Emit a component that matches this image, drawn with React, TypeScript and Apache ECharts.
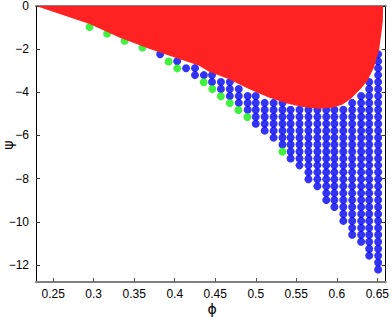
import React, { useEffect, useRef } from 'react';
import * as echarts from 'echarts';

// Axis ticks
const xTicks = [0.25, 0.3, 0.35, 0.4, 0.45, 0.5, 0.55, 0.6, 0.65];
const yTicks = [-12, -10, -8, -6, -4, -2, 0];
const X_MIN = 0.2288;
const X_MAX = 0.6604;
const Y_MIN = -12.79;
const Y_MAX = 0;

// Blue grid: one column per phi value, rows from bottom psi to top psi (grid step)
const PSI_STEP = 0.3217;
const colPhi = [0.651, 0.640, 0.630, 0.619, 0.608, 0.597, 0.587, 0.576, 0.565, 0.554, 0.543, 0.533, 0.522,
  0.511, 0.500, 0.490, 0.479, 0.468, 0.457, 0.446, 0.436, 0.425, 0.414, 0.403, 0.382];
const colBottomPsi = [-12.21, -11.567, -10.923, -10.602, -9.958, -9.315, -8.993, -8.350, -8.028, -7.384, -7.063,
  -6.419, -6.098, -5.776, -5.454, -4.811, -4.489, -4.168, -3.846, -3.524, -3.202, -3.202, -2.881, -2.559, -2.237];
const colTopPsi = [-2.237, -3.524, -4.168, -4.489, -4.811, -4.811, -4.811, -4.811, -4.811, -4.811, -4.811,
  -4.489, -4.489, -4.489, -4.168, -4.168, -3.846, -3.524, -3.524, -3.202, -3.202, -2.881, -2.881, -2.559, -2.237];

// Green points
const greenPhi = [0.2949, 0.3166, 0.3382, 0.3602, 0.3925, 0.4031, 0.4357, 0.4464, 0.4569, 0.4680, 0.4786, 0.4896, 0.5329];
const greenPsi = [-0.97, -1.28, -1.61, -1.92, -2.57, -2.89, -3.53, -3.85, -4.18, -4.50, -4.82, -5.14, -6.75];

// Red region: lower boundary (filled up to psi = 0)
const redPhi = [0.2288, 0.2949, 0.3317, 0.3684, 0.4027, 0.4296, 0.4419, 0.4664, 0.4909, 0.5153, 0.5398, 0.5582,
  0.5766, 0.5949, 0.6072, 0.6173, 0.6296, 0.6378, 0.6460, 0.6500, 0.6521, 0.6549, 0.6568, 0.6571];
const redPsi = [0, -0.83, -1.46, -1.98, -2.42, -2.76, -3.03, -3.38, -3.84, -4.23, -4.53, -4.68,
  -4.76, -4.72, -4.56, -4.30, -3.84, -3.46, -2.84, -2.30, -2.07, -1.29, -0.69, 0];

const FONT = 'Liberation Sans, Arial, Helvetica, sans-serif';

export default function App() {
  const ref = useRef<HTMLDivElement>(null);
  useEffect(() => {
    if (!ref.current) return;
    const chart = echarts.init(ref.current, undefined, { renderer: 'svg' });

    const bluePts: number[][] = [];
    colPhi.forEach((phi, i) => {
      const n = Math.round((colTopPsi[i] - colBottomPsi[i]) / PSI_STEP);
      for (let j = 0; j <= n; j++) bluePts.push([phi, colBottomPsi[i] + j * PSI_STEP]);
    });
    const greenPts = greenPhi.map((p, i) => [p, greenPsi[i]]);
    const redPts = redPhi.map((p, i) => [p, redPsi[i]]);

    const fmtY = (v: number) => (v === 0 ? '0' : (v < 0 ? '\u2212' : '') + Math.abs(v));

    const baseX = {
      type: 'value', min: X_MIN, max: X_MAX,
      splitLine: { show: false },
      axisLine: { show: true, onZero: false, lineStyle: { color: '#808080', width: 2 } },
      axisTick: { show: true, inside: true, length: 4, customValues: xTicks, lineStyle: { color: '#555' } },
    };
    const baseY = {
      type: 'value', min: Y_MIN, max: Y_MAX,
      splitLine: { show: false },
      axisLine: { show: true, onZero: false, lineStyle: { color: '#000', width: 1 } },
      axisTick: { show: true, inside: true, length: 4, customValues: yTicks, lineStyle: { color: '#333' } },
    };

    chart.setOption({
      animation: false,
      grid: { left: 36, top: 5, width: 352, height: 277, containLabel: false },
      xAxis: [
        {
          ...baseX, position: 'bottom',
          axisLabel: { show: true, customValues: xTicks, margin: 6, color: '#000', fontSize: 12, fontFamily: FONT,
            formatter: (v: number) => String(v) },
        },
        { ...baseX, position: 'top', axisLabel: { show: false } },
      ],
      yAxis: [
        {
          ...baseY, position: 'left',
          axisLabel: { show: true, customValues: yTicks, margin: 7, color: '#000', fontSize: 12, fontFamily: FONT,
            formatter: fmtY },
        },
        { ...baseY, position: 'right', axisLabel: { show: false } },
      ],
      series: [
        {
          type: 'scatter', data: bluePts, symbol: 'circle', symbolSize: 8,
          itemStyle: { color: '#0000f0' }, z: 2, silent: true,
        },
        {
          type: 'scatter', data: greenPts, symbol: 'circle', symbolSize: 8,
          itemStyle: { color: '#10ee10' }, z: 3, silent: true,
        },
        {
          type: 'line', data: redPts, showSymbol: false, symbol: 'none',
          lineStyle: { width: 0 }, areaStyle: { color: '#ff2222', opacity: 1 }, z: 4, silent: true,
        },
      ],
      graphic: [
        {
          type: 'text', x: 212, y: 309,
          style: { text: '\u03D5', fontSize: 14, fontFamily: 'DejaVu Sans, ' + FONT, fill: '#000',
            textAlign: 'center', textVerticalAlign: 'middle', align: 'center', verticalAlign: 'middle' },
        },
        {
          type: 'text', x: 8, y: 145, rotation: Math.PI / 2,
          style: { text: '\u03C8', fontSize: 14, fontFamily: 'DejaVu Sans, ' + FONT, fill: '#000',
            textAlign: 'center', textVerticalAlign: 'middle', align: 'center', verticalAlign: 'middle' },
        },
      ],
    });
    return () => chart.dispose();
  }, []);
  return <div ref={ref} style={{ position: 'absolute', left: 0, top: 0, width: 392, height: 317 }} />;
}
